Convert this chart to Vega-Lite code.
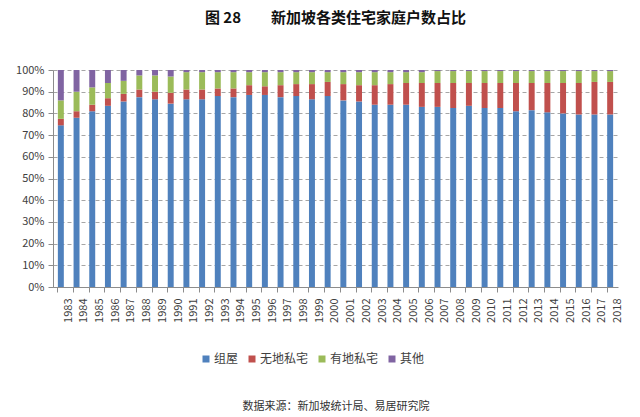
{
  "$schema": "https://vega.github.io/schema/vega-lite/v6.json",
  "width": 565,
  "height": 217,
  "autosize": {"type": "none"},
  "padding": {"left": 53, "top": 70, "right": 22, "bottom": 130},
  "background": "white",
  "config": {"view": {"stroke": null}, "font": "Noto Sans CJK SC"},
  "title": {"text": "图 28　　新加坡各类住宅家庭户数占比", "fontSize": 15, "fontWeight": "bold", "color": "#111111", "anchor": "middle", "offset": 38, "font": "Noto Sans CJK SC"},
  "datasets": {
    "types": [
      {"type": "组屋", "rank": 1},
      {"type": "无地私宅", "rank": 2},
      {"type": "有地私宅", "rank": 3},
      {"type": "其他", "rank": 4}
    ]
  },
  "data": {"values": [
    {"year": "1983", "组屋": 74.5, "无地私宅": 3, "有地私宅": 8.5, "其他": 14},
    {"year": "1984", "组屋": 78, "无地私宅": 3, "有地私宅": 9, "其他": 10},
    {"year": "1985", "组屋": 81, "无地私宅": 3, "有地私宅": 8, "其他": 8},
    {"year": "1986", "组屋": 83.5, "无地私宅": 3.5, "有地私宅": 7, "其他": 6},
    {"year": "1987", "组屋": 85.5, "无地私宅": 3.5, "有地私宅": 6, "其他": 5},
    {"year": "1988", "组屋": 87.5, "无地私宅": 3.5, "有地私宅": 6.5, "其他": 2.5},
    {"year": "1989", "组屋": 86.5, "无地私宅": 3.5, "有地私宅": 7.5, "其他": 2.5},
    {"year": "1990", "组屋": 84.5, "无地私宅": 5, "有地私宅": 7.5, "其他": 3},
    {"year": "1991", "组屋": 86.5, "无地私宅": 4.5, "有地私宅": 8, "其他": 1},
    {"year": "1992", "组屋": 86.5, "无地私宅": 4.5, "有地私宅": 8, "其他": 1},
    {"year": "1993", "组屋": 88, "无地私宅": 3.5, "有地私宅": 7.5, "其他": 1},
    {"year": "1994", "组屋": 87.5, "无地私宅": 4, "有地私宅": 7.5, "其他": 1},
    {"year": "1995", "组屋": 88.5, "无地私宅": 4.5, "有地私宅": 6, "其他": 1},
    {"year": "1996", "组屋": 88.5, "无地私宅": 4, "有地私宅": 6.5, "其他": 1},
    {"year": "1997", "组屋": 87.5, "无地私宅": 5.5, "有地私宅": 6, "其他": 1},
    {"year": "1998", "组屋": 88, "无地私宅": 5.5, "有地私宅": 5.5, "其他": 1},
    {"year": "1999", "组屋": 86.5, "无地私宅": 7, "有地私宅": 5.5, "其他": 1},
    {"year": "2000", "组屋": 88, "无地私宅": 6.5, "有地私宅": 4.5, "其他": 1},
    {"year": "2001", "组屋": 86, "无地私宅": 7.5, "有地私宅": 5.5, "其他": 1},
    {"year": "2002", "组屋": 85.5, "无地私宅": 7.5, "有地私宅": 6, "其他": 1},
    {"year": "2003", "组屋": 84, "无地私宅": 9, "有地私宅": 6, "其他": 1},
    {"year": "2004", "组屋": 84, "无地私宅": 9.5, "有地私宅": 5.5, "其他": 1},
    {"year": "2005", "组屋": 84, "无地私宅": 10, "有地私宅": 5, "其他": 1},
    {"year": "2006", "组屋": 83, "无地私宅": 11, "有地私宅": 5, "其他": 1},
    {"year": "2007", "组屋": 83, "无地私宅": 11, "有地私宅": 5.5, "其他": 0.5},
    {"year": "2008", "组屋": 82.5, "无地私宅": 11.5, "有地私宅": 5.5, "其他": 0.5},
    {"year": "2009", "组屋": 83.5, "无地私宅": 10.5, "有地私宅": 5.5, "其他": 0.5},
    {"year": "2010", "组屋": 82.5, "无地私宅": 11.5, "有地私宅": 5.5, "其他": 0.5},
    {"year": "2011", "组屋": 82.5, "无地私宅": 11.5, "有地私宅": 5.5, "其他": 0.5},
    {"year": "2012", "组屋": 81, "无地私宅": 13, "有地私宅": 5.5, "其他": 0.5},
    {"year": "2013", "组屋": 81.5, "无地私宅": 12.5, "有地私宅": 5.5, "其他": 0.5},
    {"year": "2014", "组屋": 80.5, "无地私宅": 13.5, "有地私宅": 5.5, "其他": 0.5},
    {"year": "2015", "组屋": 80, "无地私宅": 14, "有地私宅": 5.5, "其他": 0.5},
    {"year": "2016", "组屋": 79.5, "无地私宅": 14.5, "有地私宅": 5.5, "其他": 0.5},
    {"year": "2017", "组屋": 79.5, "无地私宅": 15, "有地私宅": 5, "其他": 0.5},
    {"year": "2018", "组屋": 79.5, "无地私宅": 15, "有地私宅": 5, "其他": 0.5}
  ]},
  "transform": [
    {"fold": ["组屋", "无地私宅", "有地私宅", "其他"], "as": ["type", "value"]},
    {"lookup": "type", "from": {"data": {"name": "types"}, "key": "type", "fields": ["rank"]}}
  ],
  "mark": {"type": "bar"},
  "encoding": {
    "x": {
      "field": "year", "type": "nominal",
      "scale": {"paddingInner": 0.62, "paddingOuter": 0.31},
      "axis": {
        "title": "数据来源：新加坡统计局、易居研究院",
        "titleFontSize": 11, "titleFontWeight": "normal", "titleColor": "#333333", "titlePadding": 78,
        "labelAngle": -90, "labelFontSize": 11, "labelColor": "#404040", "labelPadding": 6,
        "bandPosition": 0, "labelOffset": 7.8,
        "domainColor": "#8c8c8c", "tickColor": "#8c8c8c", "tickSize": 5
      }
    },
    "y": {
      "field": "value", "type": "quantitative", "stack": "normalize",
      "scale": {"domain": [0, 1]},
      "axis": {
        "title": null, "format": ".0%", "values": [0, 0.1, 0.2, 0.3, 0.4, 0.5, 0.6, 0.7, 0.8, 0.9, 1],
        "labelFontSize": 11, "labelColor": "#404040", "labelPadding": 4, "labelOverlap": false,
        "domain": true, "domainColor": "#8c8c8c", "tickColor": "#8c8c8c", "tickSize": 5,
        "grid": true, "gridColor": "#a6a6a6", "gridDash": [4, 3], "gridWidth": 1
      }
    },
    "color": {
      "field": "type", "type": "nominal",
      "scale": {"domain": ["组屋", "无地私宅", "有地私宅", "其他"], "range": ["#4F81BD", "#C0504D", "#9BBB59", "#8064A2"]},
      "legend": {
        "title": null, "orient": "none", "direction": "horizontal", "legendX": 147, "legendY": 283, "padding": 0,
        "symbolType": "square", "symbolSize": 49, "symbolStrokeWidth": 0,
        "labelFontSize": 12, "labelColor": "#404040", "columnPadding": 7, "labelOffset": 2
      }
    },
    "order": {"field": "rank", "type": "quantitative", "sort": "ascending"}
  }
}
